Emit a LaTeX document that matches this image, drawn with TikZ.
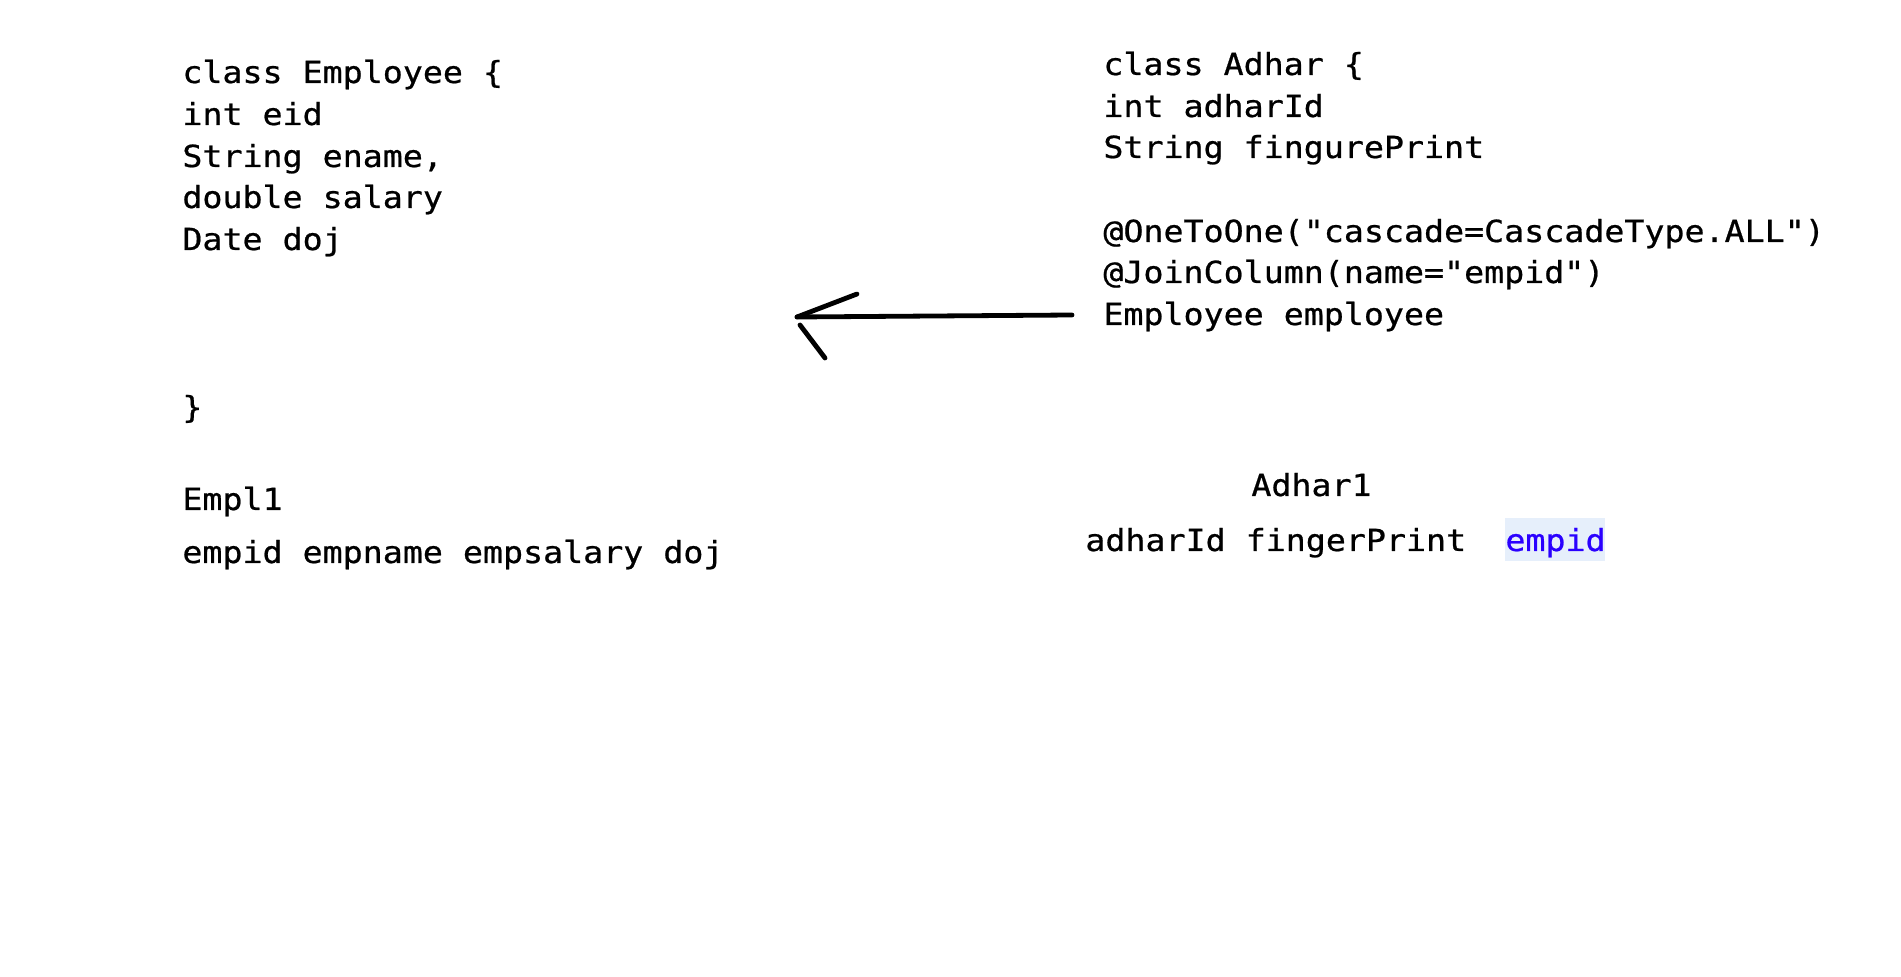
\documentclass[tikz,border=0pt]{standalone}
\usepackage{fontspec}
\usetikzlibrary{calc}
\setmonofont[FakeStretch=1.095, FakeBold=0.7]{DejaVu Sans Mono}
\definecolor{codeblue}{HTML}{2A00FF}
\definecolor{hlblue}{HTML}{E6EFFB}
\tikzset{
  code/.style={font=\fontsize{15.2}{18}\selectfont\ttfamily, inner sep=0pt, anchor=base west},
  pen/.style={line width=2.4pt, line cap=round, black}
}
\begin{document}
\begin{tikzpicture}[x=0.5pt, y=-0.5pt]
\useasboundingbox (0,0) rectangle (1901,977);
% Employee class
\node[code] (e1) at (182,83)  {class Employee \{};
\node[code] (e2) at (182,125) {int eid};
\node[code] (e3) at (182,167) {String ename,};
\node[code] (e4) at (182,208) {double salary};
\node[code] (e5) at (182,250) {Date doj};
\node[code] (e6) at (182,418) {\}};
\node[code] (t1) at (182,510) {Empl1};
\node[code] (t2) at (182,563) {empid empname empsalary doj};
% Adhar class
\node[code] (a1) at (1103,75)  {class Adhar \{};
\node[code] (a2) at (1103,117) {int adharId};
\node[code] (a3) at (1103,158) {String fingurePrint};
\node[code] (a4) at (1103,242) {@OneToOne("cascade=CascadeType.ALL")};
\node[code] (a5) at (1103,283) {@JoinColumn(name="empid")};
\node[code] (a6) at (1103,325) {Employee employee};
% Adhar1 table
\node[code] (h1) at (1251,496) {Adhar1};
\node[code] (h2) at (1085,551) {adharId fingerPrint};
\fill[hlblue] (1505,518) rectangle (1605,561);
\node[code, text=codeblue] (h3) at (1505,551) {empid};
% hand-drawn arrow
\coordinate (astart) at (1072,315);
\coordinate (atip) at (797,317);
\draw[pen] (astart) -- (atip);
\draw[pen] (atip) -- ++(60,-23);
\draw[pen] ($(atip)+(3,8)$) -- ++(25,33);
\end{tikzpicture}
\end{document}
